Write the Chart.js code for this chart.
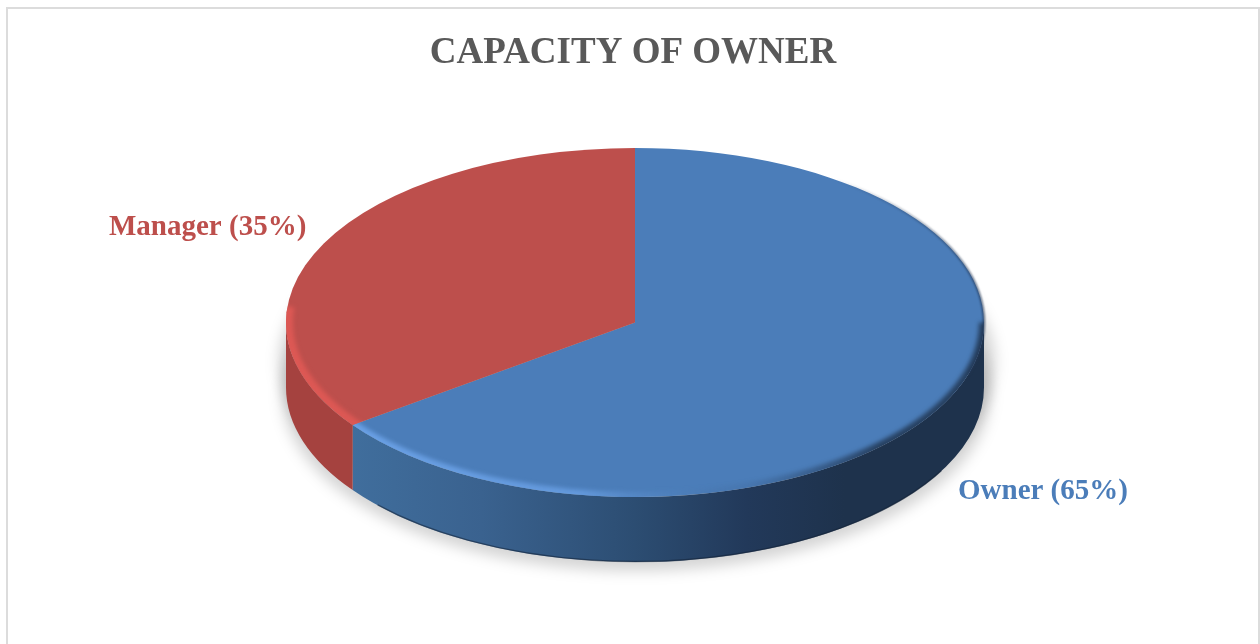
<!DOCTYPE html>
<html lang="en">
<head>
  <meta charset="UTF-8" />
  <title>Capacity of Owner</title>
  <script src="https://cdn.jsdelivr.net/npm/chart.js"></script>
  <style>
    html, body { margin: 0; height: 100%; background: #fff; overflow: hidden; }
    .frame {
      position: absolute; left: 6px; top: 7px; width: 1250px; height: 700px;
      border: 2px solid #dcdcdc;
    }
    #grafica { position: absolute; left: 0; top: 0; }
  </style>
</head>
<body>
  <div class="frame"></div>
  <canvas id="grafica" width="1260" height="644"></canvas>

  <script>
    const categorias = ["Owner", "Manager"];
    const valores = [65, 35];
    const colores = ["#4b7db9", "#bd4f4c"];
    const titulo = "CAPACITY OF OWNER";

    // flattened disc: half axes of the top face and height of the wall
    const RX = 349, RY = 174.5, DEPTH = 65;
    // label anchors (left edge, baseline)
    const posEtiquetas = [[958, 499], [109, 235]];

    const TWO_PI = Math.PI * 2;

    function wallPath(ctx, cx, cy, a0, a1) {
      ctx.beginPath();
      ctx.ellipse(cx, cy, RX, RY, 0, a0, a1);
      ctx.ellipse(cx, cy + DEPTH, RX, RY, 0, a1, a0, true);
      ctx.closePath();
    }

    function sectorPath(ctx, cx, cy, a0, a1) {
      ctx.beginPath();
      ctx.moveTo(cx, cy);
      ctx.ellipse(cx, cy, RX, RY, 0, a0, a1);
      ctx.closePath();
    }

    const disco3d = {
      id: "disco3d",
      beforeDatasetsDraw(chart) {
        const ctx = chart.ctx;
        const arcs = chart.getDatasetMeta(0).data;
        const cx = arcs[0].x, cy = arcs[0].y, r = arcs[0].outerRadius;

        // soft shadow below the disc
        ctx.save();
        ctx.filter = "blur(7px)";
        ctx.fillStyle = "rgba(0,0,0,0.17)";
        ctx.beginPath();
        ctx.ellipse(cx + 2, cy + 40, RX + 9, RY + 5, 0, 0, TWO_PI);
        ctx.fill();
        ctx.beginPath();
        ctx.ellipse(cx + 1, cy + DEPTH + 6, RX + 5, RY + 3, 0, 0, TWO_PI);
        ctx.fill();
        ctx.restore();

        // outer wall, only the front half can be seen
        const gradAzul = ctx.createLinearGradient(cx - RX, 0, cx + RX, 0);
        gradAzul.addColorStop(0.06, "#41709f");
        gradAzul.addColorStop(0.28, "#3a628f");
        gradAzul.addColorStop(0.5, "#2c4d72");
        gradAzul.addColorStop(0.66, "#22395a");
        gradAzul.addColorStop(0.8, "#1e324c");
        gradAzul.addColorStop(1, "#1e324c");
        const murales = [gradAzul, "#a5423f"];

        arcs.forEach((arc, i) => {
          const a0 = Math.max(arc.startAngle, 0);
          const a1 = Math.min(arc.endAngle, Math.PI);
          if (a1 <= a0) return;
          ctx.fillStyle = murales[i];
          wallPath(ctx, cx, cy, a0, a1);
          ctx.fill();
        });

        // dark line along the bottom of the wall
        ctx.save();
        ctx.strokeStyle = "rgba(20,35,55,0.55)";
        ctx.lineWidth = 1.5;
        ctx.beginPath();
        ctx.ellipse(cx, cy + DEPTH - 0.5, RX, RY, 0, 0.5, 2.4);
        ctx.stroke();
        ctx.restore();

        // top face: the library's own arcs, squashed into an ellipse
        ctx.save();
        ctx.translate(cx, cy);
        ctx.scale(RX / r, RY / r);
        ctx.translate(-cx, -cy);
        arcs.forEach(arc => arc.draw(ctx));
        ctx.restore();

        // bevel on the front rim of the top face
        const bordes = ctx.createLinearGradient(cx - RX, 0, cx + RX, 0);
        bordes.addColorStop(0.05, "rgba(110,165,235,0.9)");
        bordes.addColorStop(0.42, "rgba(110,165,235,0.7)");
        bordes.addColorStop(0.56, "rgba(90,140,200,0.15)");
        bordes.addColorStop(0.66, "rgba(40,66,100,0.1)");
        bordes.addColorStop(0.85, "rgba(30,50,76,0.8)");
        ctx.save();
        sectorPath(ctx, cx, cy, arcs[0].startAngle, arcs[0].endAngle);
        ctx.clip();
        ctx.filter = "blur(2px)";
        ctx.strokeStyle = bordes;
        ctx.lineWidth = 10;
        ctx.beginPath();
        ctx.ellipse(cx, cy, RX, RY, 0, 0, Math.PI);
        ctx.stroke();
        ctx.restore();

        ctx.save();
        sectorPath(ctx, cx, cy, arcs[1].startAngle, arcs[1].endAngle);
        ctx.clip();
        ctx.filter = "blur(2px)";
        ctx.strokeStyle = "#dc5854";
        ctx.lineWidth = 14;
        ctx.beginPath();
        ctx.ellipse(cx, cy, RX, RY, 0, Math.PI * 0.76, Math.PI * 1.03);
        ctx.stroke();
        ctx.restore();

        // thin dark edge on the back right
        const filo = ctx.createLinearGradient(cx + 200, 0, cx + RX, 0);
        filo.addColorStop(0, "rgba(35,55,85,0)");
        filo.addColorStop(1, "rgba(35,55,85,0.85)");
        ctx.save();
        ctx.filter = "blur(0.8px)";
        ctx.strokeStyle = filo;
        ctx.lineWidth = 2;
        ctx.beginPath();
        ctx.ellipse(cx, cy, RX, RY, 0, -1.1, 0.3);
        ctx.stroke();
        ctx.restore();

        return false;
      },
      afterDraw(chart) {
        const ctx = chart.ctx;
        ctx.save();
        ctx.textBaseline = "alphabetic";
        ctx.font = "bold 37px 'Liberation Serif'";
        ctx.textAlign = "center";
        ctx.fillStyle = "#595959";
        ctx.fillText(titulo, 633, 63);
        ctx.font = "bold 29px 'Liberation Serif'";
        ctx.textAlign = "left";
        categorias.forEach((c, i) => {
          ctx.fillStyle = colores[i];
          ctx.fillText(`${c} (${valores[i]}%)`, posEtiquetas[i][0], posEtiquetas[i][1]);
        });
        ctx.restore();
      }
    };

    new Chart(document.getElementById("grafica"), {
      type: "pie",
      data: {
        labels: categorias,
        datasets: [{
          data: valores,
          backgroundColor: colores,
          borderWidth: 0
        }]
      },
      options: {
        responsive: false,
        animation: false,
        layout: { padding: { left: 10, right: 0, top: 110, bottom: 109 } },
        plugins: {
          legend: { display: false },
          tooltip: { enabled: false }
        }
      },
      plugins: [disco3d]
    });
  </script>
</body>
</html>
